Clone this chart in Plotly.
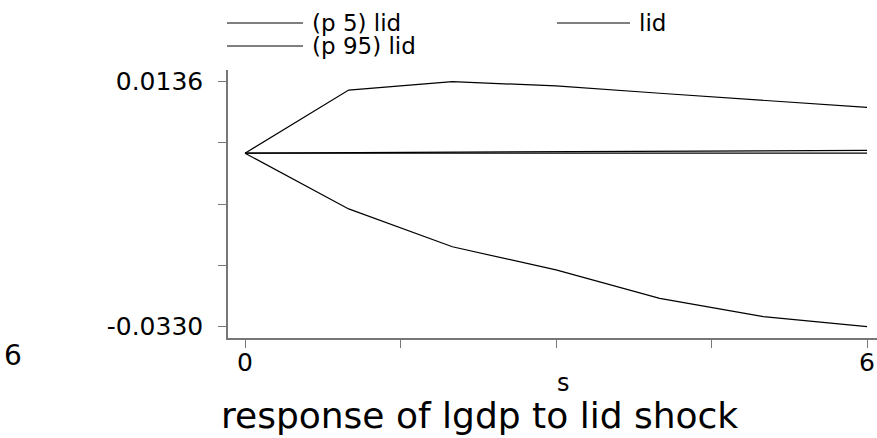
import plotly.graph_objects as go

# impulse response of lgdp to a lid shock
steps = [0, 1, 2, 3, 4, 5, 6]
p5_lid = [0.0, -0.0106, -0.0178, -0.0222, -0.0276, -0.0311, -0.0330]
p95_lid = [0.0, 0.0120, 0.0136, 0.0128, 0.0114, 0.0101, 0.0087]
lid = [0.0, 0.00012, 0.00022, 0.00030, 0.00038, 0.00046, 0.00052]
zero_line = [0, 0, 0, 0, 0, 0, 0]

x_ticks = [0, 1.5, 3, 4.5, 6]
x_labels = ["0", "", "", "", "6"]
y_ticks = [0.0136, 0.00195, -0.0097, -0.02135, -0.0330]
y_labels = ["0.0136", "", "", "", "-0.0330"]

legend_names = ["(p 5) lid", "lid", "(p 95) lid"]

font = "DejaVu Sans"
line = dict(color="black", width=1.2)

fig = go.Figure()
fig.add_trace(go.Scatter(x=steps, y=zero_line, mode="lines", line=line, showlegend=False))
fig.add_trace(go.Scatter(x=steps, y=lid, mode="lines", line=line, name=legend_names[1], showlegend=False))
fig.add_trace(go.Scatter(x=steps, y=p5_lid, mode="lines", line=line, name=legend_names[0], showlegend=False))
fig.add_trace(go.Scatter(x=steps, y=p95_lid, mode="lines", line=line, name=legend_names[2], showlegend=False))

# plot box is 228..877 x 70..338 in pixels
W, H = 877, 438
PX0, PW, PY1, PH = 228, 649, 338, 268


def px(x):
    return (x - PX0) / PW


def py(y):
    return (PY1 - y) / PH


# hand made legend, like the stata one (long line keys)
legend_spots = [(227, 303, 23), (557, 630, 23), (227, 303, 46)]
for name, (x0, x1, yy) in zip(legend_names, legend_spots):
    fig.add_shape(type="line", xref="paper", yref="paper",
                  x0=px(x0), x1=px(x1), y0=py(yy), y1=py(yy),
                  line=dict(color="black", width=1))
    fig.add_annotation(text=name, xref="paper", yref="paper",
                       x=px(x1 + 7), y=py(yy),
                       xanchor="left", yanchor="middle", showarrow=False,
                       font=dict(family=font, size=23, color="black"))

fig.add_annotation(text="s", xref="paper", yref="paper",
                   x=px(563), y=py(383),
                   xanchor="center", yanchor="middle", showarrow=False,
                   font=dict(family=font, size=24, color="black"))
fig.add_annotation(text="response of lgdp to lid shock", xref="paper", yref="paper",
                   x=px(479), y=py(415),
                   xanchor="center", yanchor="middle", showarrow=False,
                   font=dict(family=font, size=36, color="black"))
# stray label at the far left of the original
fig.add_annotation(text="6", xref="paper", yref="paper",
                   x=px(13), y=py(355),
                   xanchor="center", yanchor="middle", showarrow=False,
                   font=dict(family=font, size=28, color="black"))

fig.update_xaxes(range=[-0.164, 6.096], tickvals=x_ticks, ticktext=x_labels,
                 showgrid=False, zeroline=False, showline=True, linecolor="#777",
                 linewidth=1.5, ticks="outside", ticklen=8, tickcolor="#777",
                 ticklabelstandoff=-7,
                 tickfont=dict(family=font, size=25, color="black"))
fig.update_yaxes(range=[-0.03515, 0.015825], tickvals=y_ticks, ticktext=y_labels,
                 showgrid=False, zeroline=False, showline=True, linecolor="#777",
                 linewidth=1.5, ticks="outside", ticklen=8, tickcolor="#777",
                 ticklabelstandoff=10,
                 tickfont=dict(family=font, size=25, color="black"))

fig.update_layout(
    width=W, height=H,
    margin=dict(l=228, r=0, t=70, b=100),
    plot_bgcolor="white", paper_bgcolor="white",
    showlegend=False,
)

# drop the default 8px body margin so the figure fills the window
fig.write_html("out.html", config={"displayModeBar": False},
               post_script="document.body.style.margin='0px';")
